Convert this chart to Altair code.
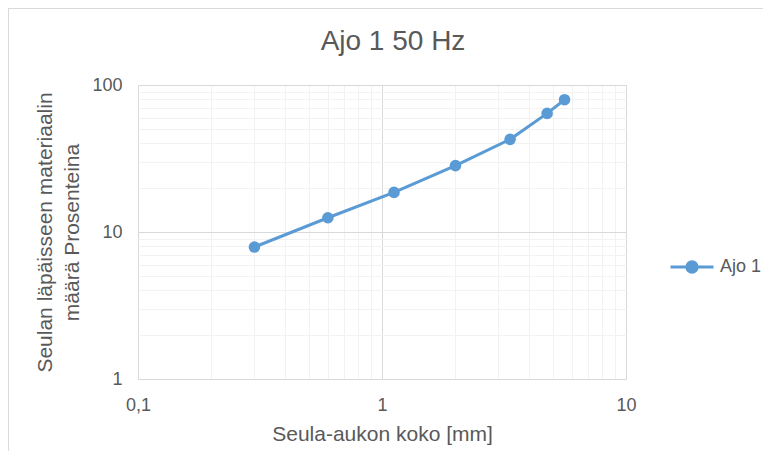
import altair as alt
import pandas as pd

# ---- data ----
sizes_mm = [0.3, 0.6, 1.12, 2.0, 3.35, 4.75, 5.6]
passing_pct = [7.9, 12.5, 18.6, 28.3, 42.7, 64.1, 79.4]
series_name = "Ajo 1"

x_ticks = [0.1, 0.2, 0.3, 0.4, 0.5, 0.6, 0.7, 0.8, 0.9,
           1, 2, 3, 4, 5, 6, 7, 8, 9, 10]
y_ticks = [1, 2, 3, 4, 5, 6, 7, 8, 9,
           10, 20, 30, 40, 50, 60, 70, 80, 90, 100]

title_text = "Ajo 1 50 Hz"
x_title = "Seula-aukon koko [mm]"
y_title = ["Seulan läpäisseen materiaalin", "määrä Prosenteina"]

df = pd.DataFrame({"x": sizes_mm, "y": passing_pct,
                   "s": [series_name] * len(sizes_mm)})

BLUE = "#5b9bd5"
TXT = "#595959"
FONT = "Liberation Sans"

major = "abs(log(datum.value)/LN10 - round(log(datum.value)/LN10)) < 1e-6"
grid_color = {"condition": {"test": major, "value": "#d9d9d9"}, "value": "#f2f2f2"}
label_expr = f"({major}) ? (datum.value < 1 ? replace(datum.label, '.', ',') : datum.label) : ''"

legend_path = ("M-1,0L1,0M0.24,0A0.24,0.24,0,1,1,-0.24,0"
               "A0.24,0.24,0,1,1,0.24,0Z")

x_enc = alt.X("x:Q", title=x_title,
              scale=alt.Scale(type="log", domain=[0.1, 10], nice=False),
              axis=alt.Axis(values=x_ticks, format="~g", labelExpr=label_expr,
                            gridColor=grid_color, gridWidth=1,
                            ticks=False, tickSize=0, domain=True,
                            domainColor="#d9d9d9", labelPadding=17,
                            labelFont=FONT, labelFontSize=18, labelColor=TXT,
                            titleFont=FONT, titleFontSize=21, titleColor=TXT,
                            titleFontWeight="normal", titlePadding=9,
                            labelFlush=False, labelOverlap=False))
y_enc = alt.Y("y:Q", title=y_title,
              scale=alt.Scale(type="log", domain=[1, 100], nice=False),
              axis=alt.Axis(values=y_ticks, format="~g", labelExpr=label_expr,
                            gridColor=grid_color, gridWidth=1,
                            ticks=False, tickSize=0, domain=False,
                            labelPadding=16,
                            labelFont=FONT, labelFontSize=18, labelColor=TXT,
                            titleFont=FONT, titleFontSize=21, titleColor=TXT,
                            titleFontWeight="normal", titlePadding=9,
                            titleLineHeight=27,
                            labelFlush=False, labelOverlap=False))
color_enc = alt.Color("s:N", scale=alt.Scale(range=[BLUE]),
                      legend=alt.Legend(title=None, orient="none",
                                        legendX=531, legendY=159,
                                        symbolType=legend_path, symbolSize=1849,
                                        symbolStrokeWidth=3,
                                        symbolFillColor=BLUE,
                                        symbolStrokeColor=BLUE,
                                        labelFont=FONT, labelFontSize=18,
                                        labelColor=TXT, labelOffset=5,
                                        padding=0))

line = alt.Chart(df).mark_line(strokeWidth=3).encode(x=x_enc, y=y_enc, color=color_enc)
pts = alt.Chart(df).mark_point(filled=True, size=135, opacity=1).encode(
    x=x_enc, y=y_enc, color=color_enc)

border = alt.Chart(df).mark_rule(color="#d9d9d9", strokeWidth=1, clip=False).encode(
    x=alt.value(-129.5), x2=alt.value(-129.5), y=alt.value(-77), y2=alt.value(372))
border_top = alt.Chart(df).mark_rule(color="#d9d9d9", strokeWidth=1, clip=False).encode(
    x=alt.value(-130), x2=alt.value(625), y=alt.value(-76.5), y2=alt.value(-76.5))

chart = alt.layer(border, border_top, line, pts).properties(
    width=488, height=294,
    autosize=alt.AutoSizeParams(type="none"),
    padding={"left": 130, "top": 77, "right": 137, "bottom": 72},
    title=alt.TitleParams(title_text, font=FONT, fontSize=28, color=TXT,
                          fontWeight="normal", anchor="middle", frame="group",
                          baseline="alphabetic", offset=-70, dx=11),
).configure_view(stroke=None)

chart.save("out.html", embed_options={"renderer": "svg", "actions": False})
